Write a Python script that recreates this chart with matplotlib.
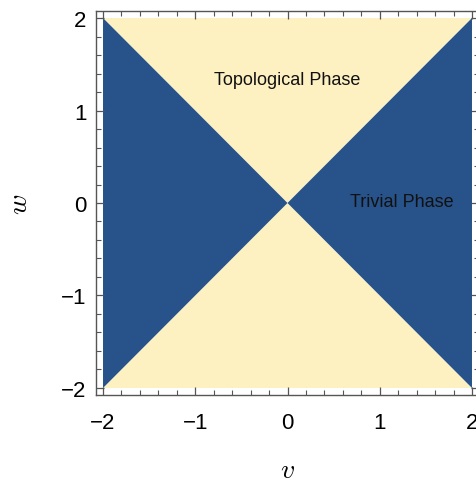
import matplotlib.pyplot as plt
from matplotlib.ticker import MultipleLocator

plt.rcParams['mathtext.fontset'] = 'cm'

# phase regions of the SSH model in the (v, w) plane, as polygon corners
topo_top_v = [-2, 2, 0]
topo_top_w = [2, 2, 0]
topo_bot_v = [-2, 2, 0]
topo_bot_w = [-2, -2, 0]
triv_left_v = [-2, -2, 0]
triv_left_w = [2, -2, 0]
triv_right_v = [2, 2, 0]
triv_right_w = [2, -2, 0]

ticks = [-2, -1, 0, 1, 2]
tick_labels = ['\u22122', '\u22121', '0', '1', '2']

yellow = '#fdf1c2'
blue = '#27538a'

fig = plt.figure(figsize=(4.76, 4.85), dpi=100)
ax = fig.add_axes([96 / 476, 89 / 485, 383 / 476, 384 / 485])

ax.fill(topo_top_v, topo_top_w, color=yellow, lw=0)
ax.fill(topo_bot_v, topo_bot_w, color=yellow, lw=0)
ax.fill(triv_left_v, triv_left_w, color=blue, lw=0)
ax.fill(triv_right_v, triv_right_w, color=blue, lw=0)

ax.text(0, 1.33, 'Topological Phase', ha='center', va='center',
        fontsize=13, family='Liberation Sans', color='#111111')
ax.text(1.24, 0.02, 'Trivial Phase', ha='center', va='center',
        fontsize=13, family='Liberation Sans', color='#111111')

ax.set_xlim(-2.076, 2.076)
ax.set_ylim(-2.076, 2.076)
ax.set_xticks(ticks)
ax.set_xticklabels(tick_labels)
ax.set_yticks(ticks)
ax.set_yticklabels(tick_labels)
ax.xaxis.set_minor_locator(MultipleLocator(0.2))
ax.yaxis.set_minor_locator(MultipleLocator(0.2))

for s in ax.spines.values():
    s.set_color('#555555')
    s.set_linewidth(1.0)

ax.tick_params(which='both', direction='in', top=True, right=True,
               color='#555555', labelsize=16)
ax.tick_params(axis='x', pad=12)
ax.tick_params(axis='y', pad=7)
ax.tick_params(which='major', length=6, width=0.9)
ax.tick_params(which='minor', length=3.5, width=0.8)
for lab in ax.get_xticklabels() + ax.get_yticklabels():
    lab.set_family('Liberation Sans')

ax.set_xlabel('$v$', fontsize=20, labelpad=16)
ax.set_ylabel('$w$', fontsize=20, labelpad=20)

fig.savefig('out.png', dpi=100)
